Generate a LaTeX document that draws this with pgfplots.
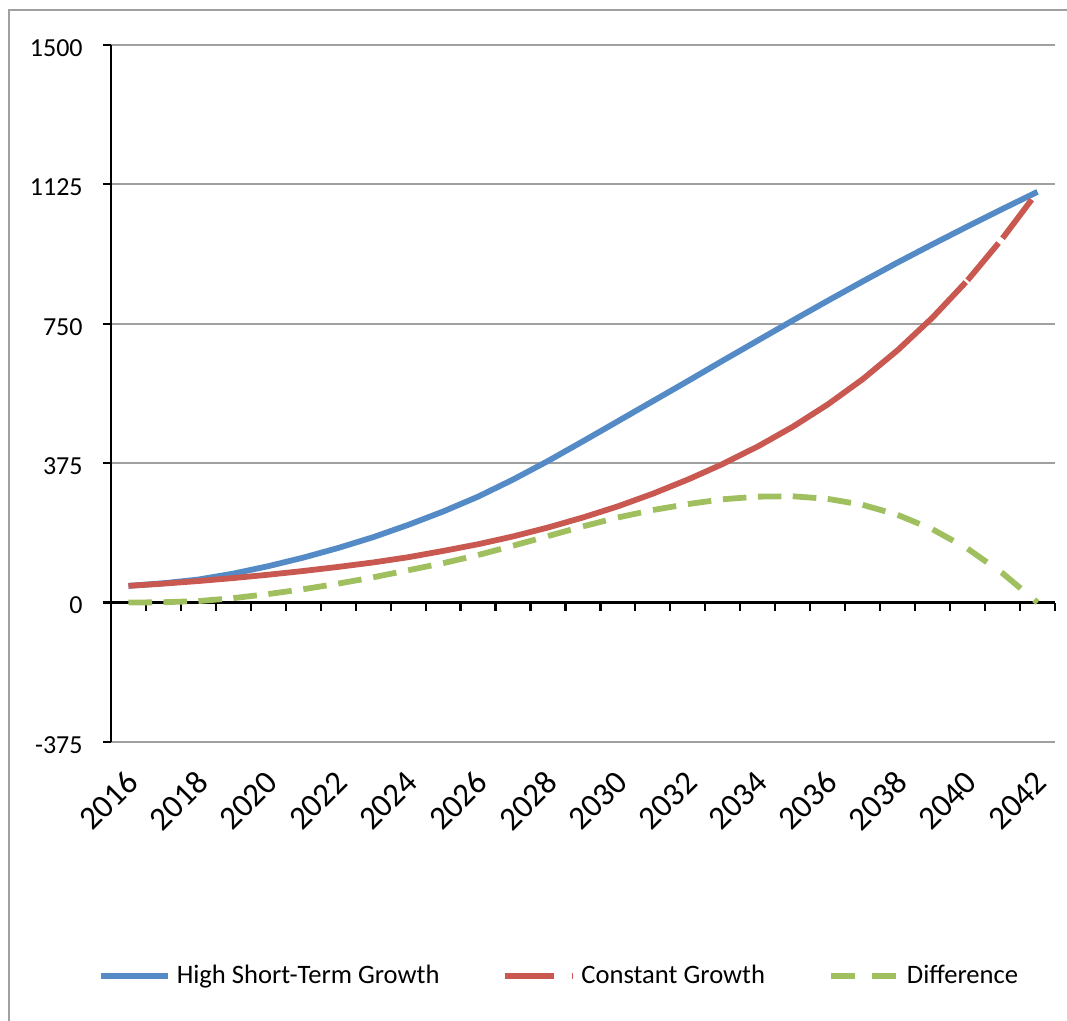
\documentclass[border=0pt]{standalone}
\usepackage{pgfplots}
\usepackage{pgfplotstable}
\pgfplotsset{compat=1.18}
\usepackage{fontspec}
\setmainfont{Carlito}

\definecolor{seriesblue}{RGB}{84,139,198}
\definecolor{seriesred}{RGB}{200,88,80}
\definecolor{seriesgreen}{RGB}{160,192,96}
\definecolor{gridgray}{RGB}{160,160,160}
\definecolor{framegray}{RGB}{160,160,160}

% Plot handler that strokes every segment as its own subpath,
% so a dash pattern starts afresh at each data point.
\makeatletter
\newif\ifseg@started
\def\seg@point#1{%
  \pgf@process{#1}%
  \edef\seg@cx{\the\pgf@x}\edef\seg@cy{\the\pgf@y}%
  \ifseg@started
    \pgfpathmoveto{\pgfqpoint{\seg@px}{\seg@py}}%
    \pgfpathlineto{\pgfqpoint{\seg@cx}{\seg@cy}}%
  \fi
  \global\let\seg@px\seg@cx
  \global\let\seg@py\seg@cy
  \global\seg@startedtrue}
\pgfdeclareplothandler{\pgfplothandlersegments}{}{%
  start=\global\seg@startedfalse,
  point macro=\seg@point,
  jump=\global\seg@startedfalse}
\tikzset{segment plot/.code={\let\tikz@plot@handler=\pgfplothandlersegments}}
\makeatother

\pgfplotstableread{
year high constant diff
2016   45    45    0
2017   52    51    1
2018   62    58    4
2019   78    66   12
2020   98    75   23
2021  121    85   36
2022  147    96   51
2023  176   108   68
2024  209   122   87
2025  245   139  106
2026  285   157  128
2027  331   178  153
2028  381   202  179
2029  434   229  205
2030  488   259  229
2031  542   293  249
2032  596   331  265
2033  651   373  278
2034  705   420  285
2035  759   473  286
2036  812   533  279
2037  864   601  263
2038  915   679  236
2039  964   767  197
2040 1012   867  145
2041 1059   980   79
2042 1105  1105    0
}\growthdata

\begin{document}
\begin{tikzpicture}
\useasboundingbox (0,0) rectangle (533.5pt,510.5pt);
% chart area border
\draw[framegray, line width=0.75pt] (4.5pt,-20pt) -- (4.5pt,505.5pt) -- (560pt,505.5pt);
\begin{axis}[
  at={(55.5pt,139.5pt)}, anchor=south west,
  scale only axis, width=472pt, height=348.5pt,
  xmin=2015.5, xmax=2042.5, ymin=-375, ymax=1500,
  axis y line=left, axis x line=middle,
  axis line style={black, line width=1.1pt, -},
  every inner x axis line/.append style={-},
  every outer y axis line/.append style={-},
  hide obscured y ticks=false,
  hide obscured x ticks=false,
  ytick={-375,0,375,750,1125,1500},
  yticklabels={-375,0,375,750,1125,1500},
  xtick={2016,2018,...,2042},
  xticklabels={2016,2018,2020,2022,2024,2026,2028,2030,2032,2034,2036,2038,2040,2042},
  minor xtick={2015.5,2016.5,...,2042.5},
  tick align=outside,
  major tick length=4pt, minor tick length=4pt,
  tick style={black, line width=1.1pt},
  major x tick style={draw=none},
  ymajorgrids, grid style={gridgray, line width=1pt},
  yticklabel style={font=\fontsize{13}{15}\selectfont, anchor=east, inner sep=0pt, xshift=-10pt, yshift=-1.5pt},
  x tick label style={font=\fontsize{16.5}{19}\selectfont, xshift=2pt, rotate=45, anchor=east, inner sep=0pt},
  xticklabel shift=83pt,
  legend style={draw=none, fill=none, at={(-0.0138,-0.3357)}, anchor=west,
    legend columns=3, inner sep=0pt, outer sep=0pt,
    font=\fontsize{13.3}{15}\selectfont,
    nodes={inner sep=0pt},
    /tikz/every odd column/.append style={column sep=3pt},
    /tikz/every even column/.append style={column sep=31.5pt}},
  legend cell align=left,
  legend image code/.code={\draw[#1] (0pt,0pt) -- (33.5pt,0pt);},
]
\addplot[seriesblue, line width=2.9pt, no marks] table[x=year, y=high] {\growthdata};
\addlegendentry{High Short-Term Growth}
\addplot[seriesred, line width=2.9pt, no marks, segment plot, dash pattern=on 24.2pt off 8.85pt] table[x=year, y=constant] {\growthdata};
\addlegendentry{Constant Growth}
\addplot[seriesgreen, line width=2.9pt, no marks, segment plot, dash pattern=on 11.8pt off 8.85pt] table[x=year, y=diff] {\growthdata};
\addlegendentry{Difference}
\end{axis}
\end{tikzpicture}
\end{document}
